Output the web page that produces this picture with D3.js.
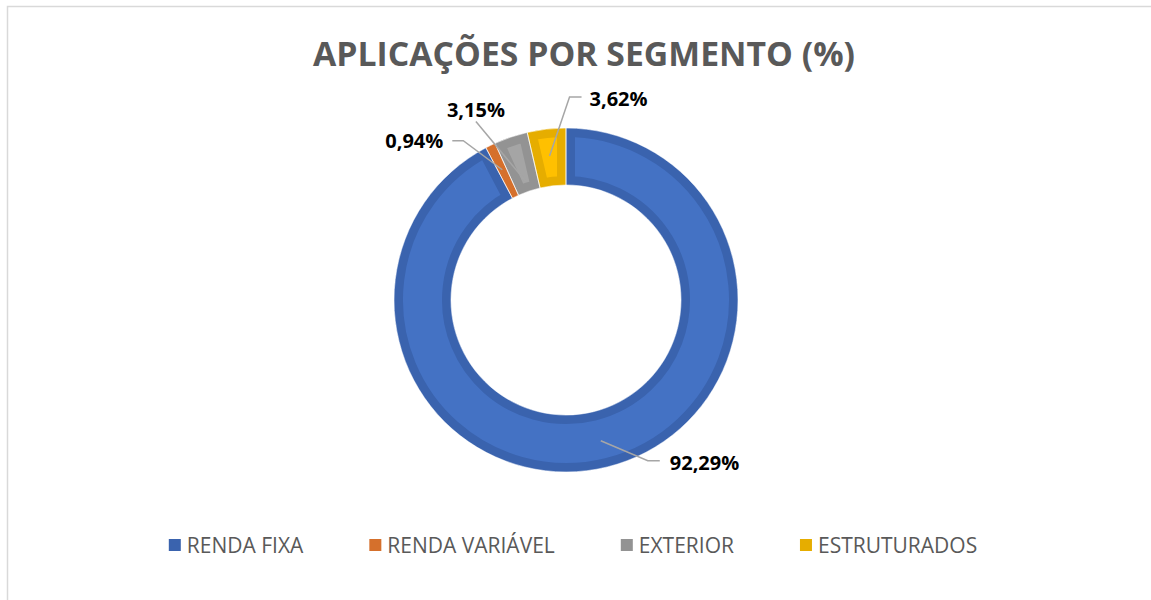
<!DOCTYPE html>
<html>
<head>
<meta charset="utf-8">
<script src="https://cdn.jsdelivr.net/npm/d3@7"></script>
<style>
  body { margin: 0; background: #fff; }
  text { font-family: "Open Sans", sans-serif; }
</style>
</head>
<body>
<div id="chart"></div>
<script>
// data
var categories = ["RENDA FIXA", "RENDA VARIÁVEL", "EXTERIOR", "ESTRUTURADOS"];
var values = [92.29, 0.94, 3.15, 3.62];
var valueLabels = ["92,29%", "0,94%", "3,15%", "3,62%"];
var fillColors = ["#4472C4", "#ED7D31", "#A5A5A5", "#FFC000"];
var edgeColors = ["#3A63AE", "#D5702C", "#939393", "#E6AD00"];

var svgWidth = 1151;
var svgHeight = 600;
var cx = 566, cy = 300;
var outerR = 172, innerR = 115;

// label layout: anchor radius, leader points and text pos relative to anchor
var labelLayout = [
  { r: 145, pts: [[47, 20], [59, 20]], text: [69, 29], anchor: "start" },
  { r: 145, pts: [[-39, -29], [-50, -29]], text: [-59, -22], anchor: "end" },
  { r: 125, pts: [[-50, -60]], text: [-79, -65], anchor: "start" },
  { r: 145, pts: [[20, -59], [32, -59]], text: [40, -50], anchor: "start" }
];

var svg = d3.select("#chart")
  .append("svg")
  .attr("width", svgWidth)
  .attr("height", svgHeight);

// chart frame
svg.append("rect")
  .attr("x", 7.5)
  .attr("y", 6.5)
  .attr("width", 1160)
  .attr("height", 620)
  .attr("fill", "none")
  .attr("stroke", "#D9D9D9")
  .attr("stroke-width", 1.5);

// title
svg.append("text")
  .attr("x", 584)
  .attr("y", 66)
  .attr("text-anchor", "middle")
  .attr("font-size", 34)
  .attr("font-weight", "bold")
  .attr("fill", "#595959")
  .attr("textLength", 542)
  .attr("lengthAdjust", "spacingAndGlyphs")
  .text("APLICAÇÕES POR SEGMENTO (%)");

var pie = d3.pie().sort(null).value(d => d);
var arcs = pie(values);

var arc = d3.arc().innerRadius(innerR).outerRadius(outerR);

var chartGroup = svg.append("g")
  .attr("transform", `translate(${cx}, ${cy})`);

var defs = svg.append("defs");
arcs.forEach(function(d, i) {
  defs.append("clipPath")
    .attr("id", "clip" + i)
    .append("path")
    .attr("d", arc(d));
});

// slices: lighter fill with darker inner border
chartGroup.selectAll("path.slice")
  .data(arcs)
  .enter()
  .append("path")
  .attr("class", "slice")
  .attr("d", arc)
  .attr("fill", (d, i) => fillColors[i])
  .attr("stroke", (d, i) => edgeColors[i])
  .attr("stroke-width", 18)
  .attr("clip-path", (d, i) => `url(#clip${i})`);

// thin white separators
chartGroup.selectAll("path.sep")
  .data(arcs)
  .enter()
  .append("path")
  .attr("class", "sep")
  .attr("d", arc)
  .attr("fill", "none")
  .attr("stroke", "#fff")
  .attr("stroke-width", 0.6);

// data labels with leader lines
arcs.forEach(function(d, i) {
  var lay = labelLayout[i];
  var mid = (d.startAngle + d.endAngle) / 2;
  var ax = cx + lay.r * Math.sin(mid);
  var ay = cy - lay.r * Math.cos(mid);
  var pts = [[ax, ay]].concat(lay.pts.map(p => [ax + p[0], ay + p[1]]));

  svg.append("path")
    .attr("d", d3.line()(pts))
    .attr("fill", "none")
    .attr("stroke", "#A6A6A6")
    .attr("stroke-width", 1.5);

  svg.append("text")
    .attr("x", ax + lay.text[0])
    .attr("y", ay + lay.text[1])
    .attr("text-anchor", lay.anchor)
    .attr("font-size", 20)
    .attr("font-weight", "bold")
    .attr("fill", "#000")
    .text(valueLabels[i]);
});

// legend
var legend = svg.append("g");
var items = legend.selectAll("g")
  .data(categories)
  .enter()
  .append("g");

items.append("rect")
  .attr("y", 539)
  .attr("width", 12)
  .attr("height", 12)
  .attr("fill", (d, i) => edgeColors[i]);

items.append("text")
  .attr("x", 18)
  .attr("y", 553)
  .attr("font-size", 21)
  .attr("fill", "#595959")
  .text(d => d);

var gap = 66;
var widths = [];
items.each(function() {
  widths.push(18 + d3.select(this).select("text").node().getComputedTextLength());
});
var total = d3.sum(widths) + gap * (widths.length - 1);
var xPos = 573 - total / 2;
items.each(function(d, i) {
  d3.select(this).attr("transform", `translate(${xPos}, 0)`);
  xPos += widths[i] + gap;
});
</script>
</body>
</html>
